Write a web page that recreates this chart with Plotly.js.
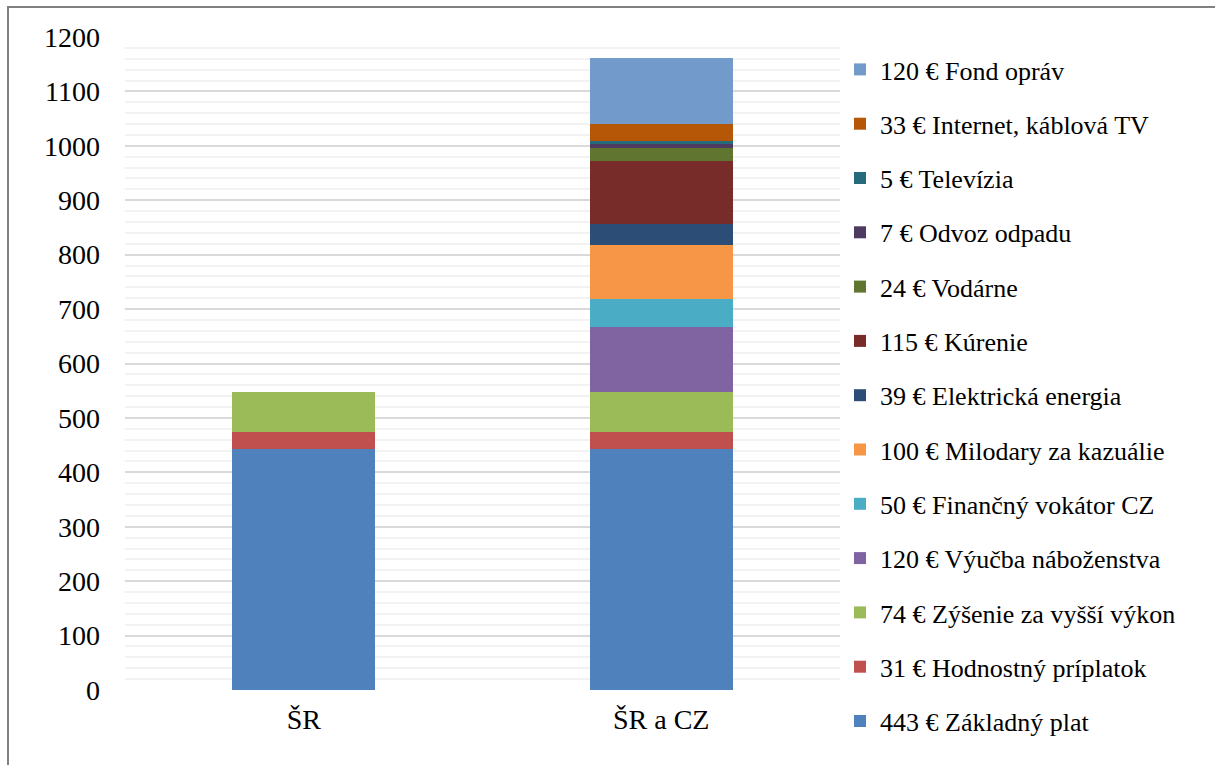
<!DOCTYPE html>
<html>
<head>
<meta charset="utf-8">
<script src="https://cdn.plot.ly/plotly-3.0.1.min.js"></script>
<style>
  html, body { margin: 0; padding: 0; background: #fff; }
  #chart { width: 1215px; height: 765px; }
</style>
</head>
<body>
<div id="chart"></div>
<script>
const categories = ["ŠR", "ŠR a CZ"];

const seriesNames = [
  "443 € Základný plat",
  "31 € Hodnostný príplatok",
  "74 € Zýšenie za vyšší výkon",
  "120 € Výučba náboženstva",
  "50 € Finančný vokátor CZ",
  "100 € Milodary za kazuálie",
  "39 € Elektrická energia",
  "115 € Kúrenie",
  "24 € Vodárne",
  "7 € Odvoz odpadu",
  "5 € Televízia",
  "33 € Internet, káblová TV",
  "120 € Fond opráv"
];

const zakladnyPlat   = [443, 443];
const hodnostny      = [31, 31];
const zvysenie       = [74, 74];
const vyucba         = [0, 120];
const vokator        = [0, 50];
const milodary       = [0, 100];
const elektrina      = [0, 39];
const kurenie        = [0, 115];
const vodarne        = [0, 24];
const odpad          = [0, 7];
const televizia      = [0, 5];
const internet       = [0, 33];
const fondOprav      = [0, 120];

const seriesValues = [zakladnyPlat, hodnostny, zvysenie, vyucba, vokator, milodary,
  elektrina, kurenie, vodarne, odpad, televizia, internet, fondOprav];

const colors = ["#4F81BD", "#C0504D", "#9BBB59", "#8064A2", "#4BACC6", "#F79646",
  "#2C4D75", "#772C2A", "#5F7530", "#4D3B62", "#276A7C", "#B65708", "#729ACA"];

const yTicks = [0, 100, 200, 300, 400, 500, 600, 700, 800, 900, 1000, 1100, 1200];

const FONT = "Liberation Serif, Times New Roman, serif";

const traces = seriesNames.map((name, i) => ({
  type: "bar",
  name: name,
  x: categories,
  y: seriesValues[i],
  width: 0.4,
  legendgroup: "g" + i,
  legendrank: 1000 - i,
  marker: { color: colors[i], line: { width: 0 } },
  hoverinfo: "x+y+name"
}));

const L = 125, R = 375, T = 37, B = 75;
const W = 1215, H = 765;
const pw = W - L - R, ph = H - T - B;

const layout = {
  width: W, height: H,
  margin: { l: L, r: R, t: T, b: B, pad: 0 },
  paper_bgcolor: "#ffffff",
  plot_bgcolor: "#ffffff",
  barmode: "stack",
  font: { family: FONT, size: 26, color: "#000000" },
  showlegend: true,
  legend: {
    xref: "container", yref: "container",
    x: 840 / W, xanchor: "left",
    y: 1 - 46 / H, yanchor: "top",
    traceorder: "grouped",
    tracegroupgap: 17.5,
    maxheight: 760,
    font: { family: FONT, size: 26, color: "#000000" },
    bgcolor: "rgba(0,0,0,0)",
    itemwidth: 30
  },
  xaxis: {
    type: "category",
    range: [-0.5, 1.5],
    showgrid: false,
    zeroline: false,
    showline: false,
    ticks: "",
    ticklabelstandoff: 10,
    tickfont: { family: FONT, size: 28, color: "#000000" }
  },
  yaxis: {
    range: [0, 1200],
    tickvals: yTicks,
    ticktext: yTicks.map(String),
    showgrid: true,
    gridcolor: "#d9d9d9",
    gridwidth: 1.5,
    zeroline: false,
    showline: false,
    ticks: "",
    ticklabelstandoff: 24,
    tickfont: { family: FONT, size: 28, color: "#000000" },
    minor: { dtick: 20, tick0: 0, showgrid: true, gridcolor: "#f2f2f2", gridwidth: 1.5, ticks: "" }
  },
  shapes: [{
    type: "rect", xref: "paper", yref: "paper",
    x0: (8 - L) / pw, x1: (W + 20 - L) / pw,
    y0: -(H + 20 - (H - B)) / ph, y1: (H - B - 7) / ph,
    line: { color: "#808080", width: 2 },
    fillcolor: "rgba(0,0,0,0)",
    layer: "below"
  }],
  bargap: 0.6
};

Plotly.newPlot("chart", traces, layout, { displayModeBar: false, staticPlot: false });
</script>
</body>
</html>
